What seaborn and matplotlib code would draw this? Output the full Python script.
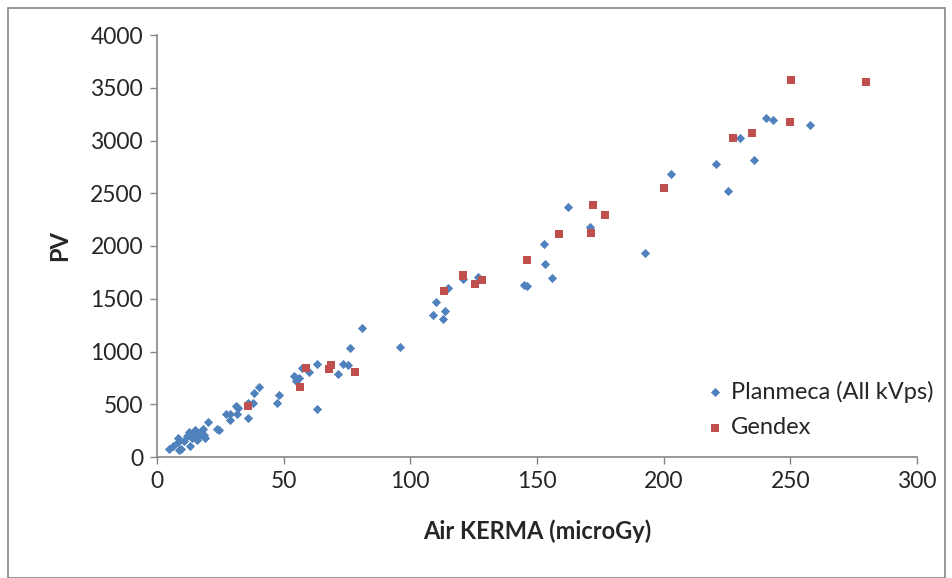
import matplotlib
matplotlib.use("Agg")
import matplotlib.pyplot as plt
import seaborn as sns
import pandas as pd
from matplotlib.patches import Rectangle

planmeca_x = [4.8, 6.3, 8.4, 8.4, 8.7, 9.4, 11.8, 13.2, 13.7, 14.9, 15.7, 16.6, 18.3, 19.0, 18.5,
              20.0, 23.8, 24.3, 27.4, 28.7, 28.9, 31.1, 31.8, 31.5, 35.9, 36.1, 38.3, 38.0, 40.2,
              47.2, 48.2, 54.2, 54.9, 55.9, 57.3, 60.0, 63.3, 63.3, 71.5, 73.4, 75.4, 76.1, 80.9,
              96.1, 109.1, 110.0, 112.9, 113.7, 114.9, 120.6, 126.9, 144.7, 146.2, 152.9, 153.1,
              155.8, 162.3, 171.0, 192.6, 202.7, 220.8, 225.4, 230.0, 235.5, 240.3, 243.0, 257.9,
              12.5, 15.0, 17.5, 10.5, 14.0]
planmeca_y = [80, 108, 178, 143, 63, 73, 195, 108, 212, 254, 160, 195, 265, 178, 212,
              334, 265, 258, 404, 352, 404, 484, 463, 404, 366, 509, 603, 509, 665,
              512, 585, 770, 721, 746, 840, 805, 882, 456, 787, 882, 868, 1031, 1223,
              1042, 1345, 1467, 1310, 1380, 1599, 1686, 1704, 1631, 1617, 2017, 1826,
              1693, 2373, 2181, 1937, 2679, 2774, 2523, 3021, 2819, 3209, 3192, 3150,
              240, 230, 250, 150, 180]

gendex_x = [36.1, 56.3, 58.8, 67.9, 68.6, 78.3, 113.4, 120.6, 120.8, 125.5, 128.3, 146.2, 158.7,
            171.2, 172.2, 176.7, 200.1, 227.3, 235.0, 249.7, 250.2, 280.0]
gendex_y = [481, 659, 847, 833, 875, 805, 1571, 1728, 1712, 1641, 1676, 1864, 2118,
            2122, 2390, 2293, 2551, 3024, 3073, 3174, 3571, 3554]

series_names = ["Planmeca (All kVps)", "Gendex"]
x_ticks = [0, 50, 100, 150, 200, 250, 300]
y_ticks = [0, 500, 1000, 1500, 2000, 2500, 3000, 3500, 4000]

df = pd.DataFrame({
    "x": planmeca_x + gendex_x,
    "y": planmeca_y + gendex_y,
    "series": [series_names[0]] * len(planmeca_x) + [series_names[1]] * len(gendex_x),
})

sns.set_theme(style="white")
plt.rcParams["font.family"] = ["Lato", "DejaVu Sans"]

fig = plt.figure(figsize=(9.53, 5.78), dpi=100)
ax = fig.add_axes([157 / 953, 1 - 457 / 578, 760 / 953, 422 / 578])

palette = {series_names[0]: "#4F81BD", series_names[1]: "#C0504D"}
markers = {series_names[0]: "D", series_names[1]: "s"}
sizes = {series_names[0]: 22, series_names[1]: 36}

for name in series_names:
    sub = df[df["series"] == name]
    sns.scatterplot(data=sub, x="x", y="y", color=palette[name], marker=markers[name],
                    s=sizes[name], linewidth=0, ax=ax, label=name, zorder=3)

ax.set_xlim(0, 300)
ax.set_ylim(0, 4000)
ax.set_xticks(x_ticks)
ax.set_yticks(y_ticks)
ax.tick_params(axis="both", labelsize=16.5, length=5, width=1, color="#868686", direction="out",
               bottom=True, left=True, pad=5)
for s in ["top", "right"]:
    ax.spines[s].set_visible(False)
for s in ["left", "bottom"]:
    ax.spines[s].set_color("#868686")
    ax.spines[s].set_linewidth(1.2)

ax.set_xlabel("Air KERMA (microGy)", fontsize=17, fontweight="bold", labelpad=20)
ax.set_ylabel("PV", fontsize=17, fontweight="bold", labelpad=14)

leg = ax.legend(loc="lower right", bbox_to_anchor=(1.05, -0.005), frameon=False, fontsize=17,
                handletextpad=0.2, markerscale=1.0, labelspacing=0.6, handlelength=1.0)

fig.patches.append(Rectangle((8 / 953, 0.0), 937 / 953, 1 - 8 / 578, transform=fig.transFigure,
                             fill=False, edgecolor="#868686", linewidth=1.2))

fig.savefig("out.png", dpi=100, facecolor="white")
